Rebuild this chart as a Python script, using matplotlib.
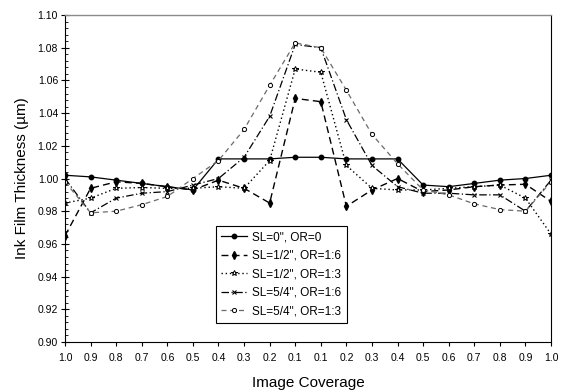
import matplotlib
matplotlib.use("Agg")
import matplotlib.pyplot as plt
from matplotlib.ticker import MultipleLocator, FixedLocator

plt.rcParams['font.family'] = ['Liberation Sans', 'DejaVu Sans']

# Image coverage along the sheet: outer edge -> centre -> outer edge
coverage_labels = ['1.0', '0.9', '0.8', '0.7', '0.6', '0.5', '0.4', '0.3', '0.2', '0.1',
                   '0.1', '0.2', '0.3', '0.4', '0.5', '0.6', '0.7', '0.8', '0.9', '1.0']

# Ink film thickness (um) for each roller setting
sl0_or0 = [1.002, 1.001, 0.999, 0.997, 0.995, 0.993, 1.012, 1.012, 1.012, 1.013,
           1.013, 1.012, 1.012, 1.012, 0.996, 0.995, 0.997, 0.999, 1.000, 1.002]
sl12_or16 = [0.965, 0.994, 0.998, 0.997, 0.995, 0.993, 0.999, 0.994, 0.985, 1.049,
             1.047, 0.983, 0.993, 1.000, 0.992, 0.993, 0.995, 0.996, 0.9965, 0.986]
sl12_or13 = [0.985, 0.988, 0.994, 0.9945, 0.994, 0.994, 0.995, 0.994, 1.011, 1.067,
             1.065, 1.008, 0.994, 0.993, 0.993, 0.994, 0.995, 0.996, 0.988, 0.966]
sl54_or16 = [1.000, 0.979, 0.988, 0.991, 0.992, 0.996, 1.000, 1.013, 1.038, 1.082,
             1.080, 1.036, 1.008, 0.995, 0.991, 0.991, 0.990, 0.990, 0.980, 0.999]
sl54_or13 = [0.998, 0.979, 0.980, 0.984, 0.989, 1.000, 1.011, 1.030, 1.057, 1.083,
             1.080, 1.054, 1.027, 1.009, 0.993, 0.990, 0.9845, 0.981, 0.980, 0.998]

series_names = ['SL=0", OR=0', 'SL=1/2", OR=1:6', 'SL=1/2", OR=1:3',
                'SL=5/4", OR=1:6', 'SL=5/4", OR=1:3']

fig = plt.figure(figsize=(5.61, 3.92), dpi=100)
ax = fig.add_axes([0.1159, 0.1276, 0.8663, 0.834])

pos = list(range(len(coverage_labels)))

ax.plot(pos, sl0_or0, color='black', lw=0.9, ls='-', marker='o', ms=3.2,
        mfc='black', mec='black', label=series_names[0])
ax.plot(pos, sl12_or16, color='black', lw=1.0, ls=(0, (5, 3)), marker='d', ms=3.6,
        mfc='black', mec='black', label=series_names[1])
ax.plot(pos, sl12_or13, color='black', lw=1.0, ls=(0, (1, 2)), marker='*', ms=4.2,
        mfc='white', mec='black', mew=0.7, label=series_names[2])
ax.plot(pos, sl54_or16, color='black', lw=0.9, ls=(0, (6, 2, 1, 2)), marker='x', ms=3.2,
        mec='black', mew=0.8, label=series_names[3])
ax.plot(pos, sl54_or13, color='#6a6a6a', lw=0.9, ls=(0, (4, 3)), marker='o', ms=3.0,
        mfc='white', mec='black', mew=0.7, label=series_names[4])

ax.set_xlim(0, len(coverage_labels) - 1)
ax.set_ylim(0.90, 1.10)
ax.xaxis.set_major_locator(FixedLocator(pos))
ax.set_xticklabels(coverage_labels)
ax.yaxis.set_major_locator(MultipleLocator(0.02))
ax.yaxis.set_minor_locator(MultipleLocator(0.004))
ax.yaxis.set_major_formatter(plt.FuncFormatter(lambda v, p: f"{v:.2f}"))

ax.tick_params(axis='y', which='major', direction='inout', length=6, width=0.8,
               labelsize=7.5, pad=2)
ax.tick_params(axis='y', which='minor', direction='in', length=2.5, width=0.6)
ax.tick_params(axis='x', which='major', direction='out', length=3, width=0.8,
               labelsize=7.5, pad=5)

for side in ['left', 'bottom', 'right']:
    ax.spines[side].set_color('black')
    ax.spines[side].set_linewidth(0.8)
ax.spines['top'].set_color('#8a8a8a')
ax.spines['top'].set_linewidth(1.0)

ax.set_ylabel('Ink Film Thickness (\u00b5m)', fontsize=11, labelpad=6)
ax.set_xlabel('Image Coverage', fontsize=11, labelpad=9)

leg = ax.legend(loc='upper left', bbox_to_anchor=(0.311, 0.355), fontsize=8.5,
                frameon=True, fancybox=False, edgecolor='black', framealpha=1,
                handlelength=2.2, handletextpad=0.4, labelspacing=0.55,
                borderpad=0.45, borderaxespad=0)
leg.get_frame().set_linewidth(0.8)

fig.savefig('out.png', dpi=100)
